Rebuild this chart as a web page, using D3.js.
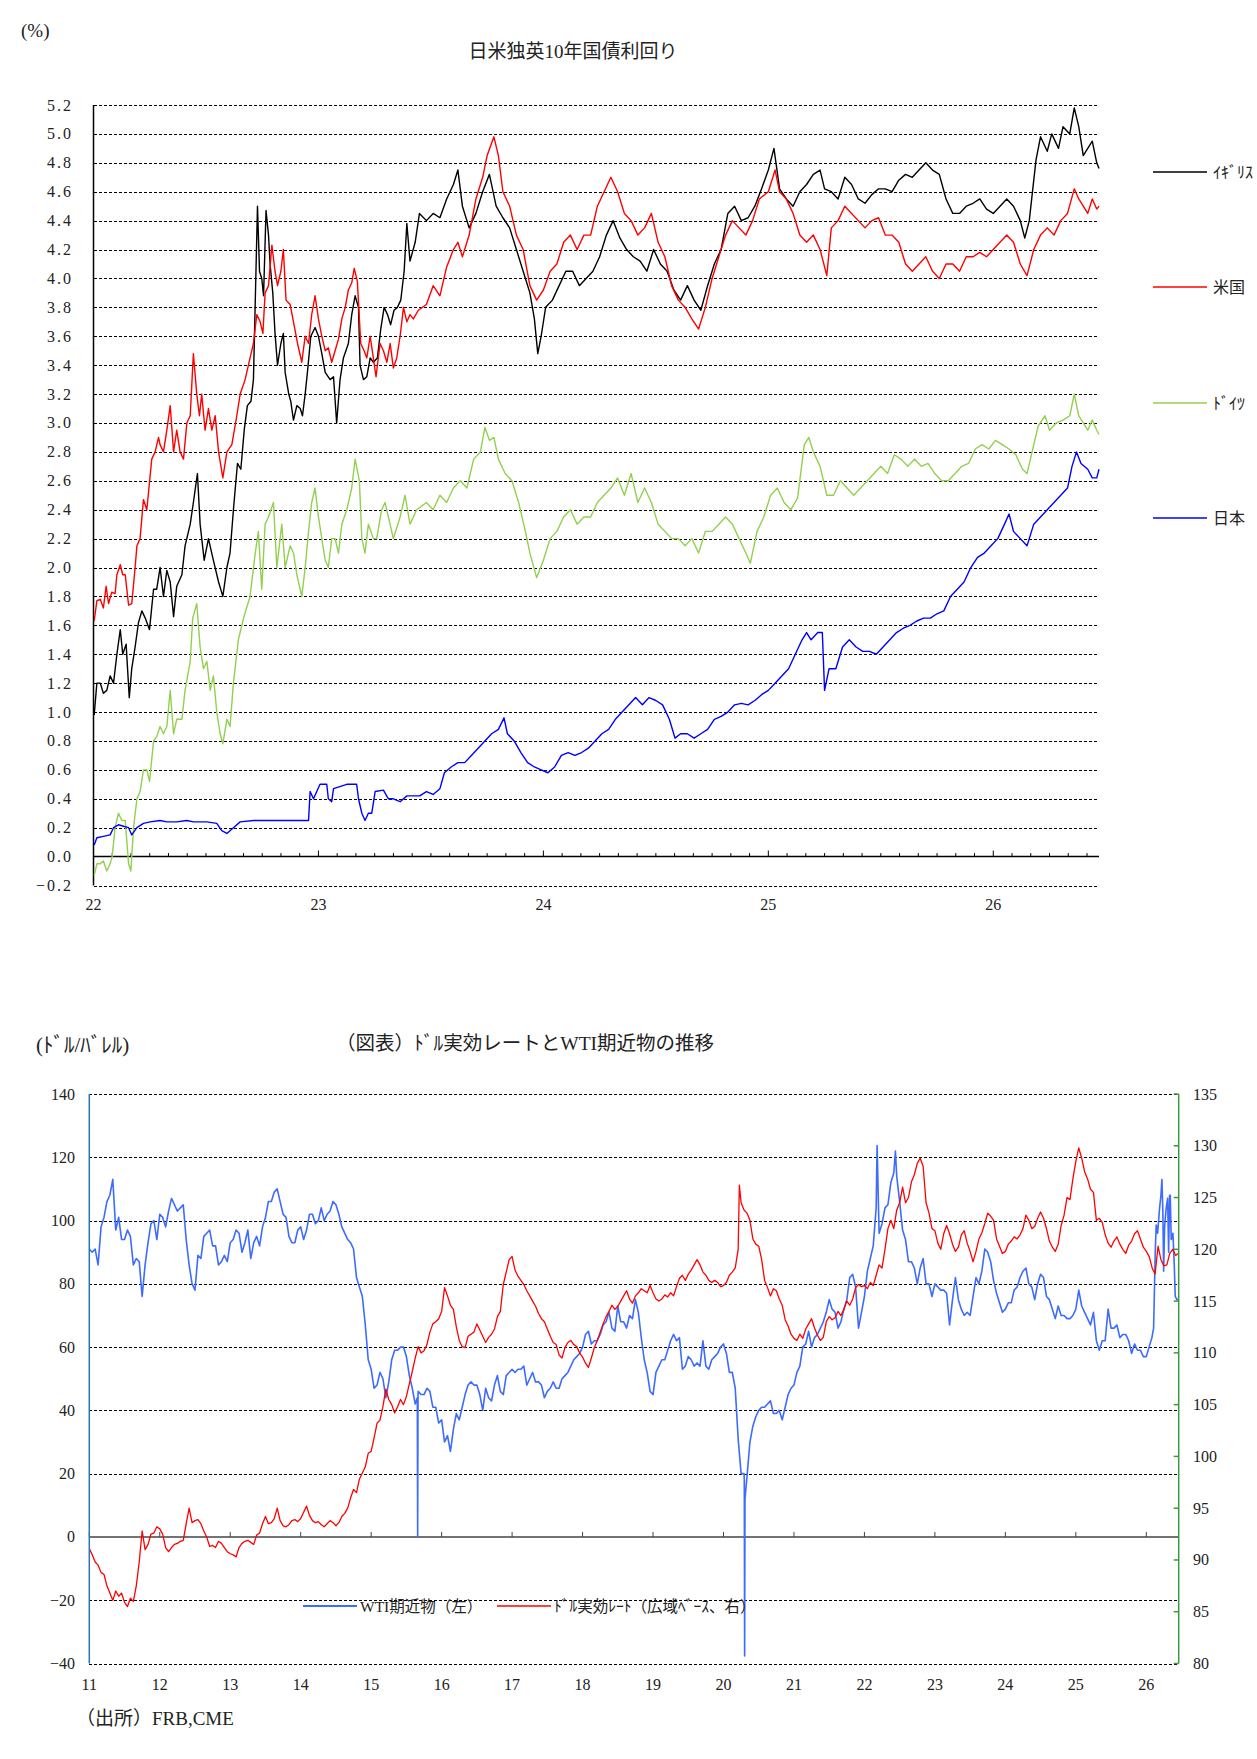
<!DOCTYPE html>
<html>
<head>
<meta charset="utf-8">
<script src="https://cdn.jsdelivr.net/npm/d3@7"></script>
<style>
  body { margin: 0; background: #fff; }
  text { font-family: "Liberation Serif", "Noto Sans CJK JP", serif; fill: #222; }
</style>
</head>
<body>
<div id="chart"></div>
<script>
// ---- top chart: 10y government bond yields, [year (2-digit, decimal), %] ----
var ukYield = [[22.003,0.98],[22.015,1.2],[22.03,1.2],[22.044,1.13],[22.059,1.15],[22.074,1.25],[22.089,1.2],[22.104,1.4],[22.119,1.57],[22.13,1.4],[22.145,1.47],[22.159,1.1],[22.17,1.3],[22.185,1.45],[22.2,1.62],[22.215,1.7],[22.23,1.65],[22.249,1.57],[22.267,1.85],[22.281,1.85],[22.296,2.0],[22.311,1.8],[22.326,1.98],[22.341,1.9],[22.356,1.66],[22.37,1.87],[22.393,1.95],[22.407,2.15],[22.43,2.3],[22.444,2.45],[22.462,2.65],[22.474,2.3],[22.492,2.05],[22.511,2.2],[22.533,2.05],[22.556,1.9],[22.575,1.8],[22.593,2.0],[22.607,2.1],[22.622,2.4],[22.64,2.72],[22.655,2.68],[22.67,2.95],[22.684,3.12],[22.7,3.15],[22.711,3.3],[22.72,3.9],[22.729,4.5],[22.738,4.05],[22.748,4.0],[22.756,3.88],[22.767,4.47],[22.778,4.3],[22.785,4.1],[22.797,3.9],[22.807,3.62],[22.818,3.4],[22.833,3.55],[22.844,3.62],[22.852,3.35],[22.868,3.2],[22.877,3.15],[22.889,3.02],[22.904,3.12],[22.919,3.1],[22.929,3.05],[22.941,3.2],[22.951,3.35],[22.966,3.6],[22.985,3.66],[23.0,3.6],[23.015,3.48],[23.03,3.35],[23.052,3.3],[23.067,3.32],[23.081,3.0],[23.096,3.3],[23.111,3.45],[23.133,3.55],[23.148,3.75],[23.163,3.88],[23.178,3.8],[23.185,3.4],[23.2,3.3],[23.215,3.32],[23.23,3.45],[23.244,3.42],[23.262,3.45],[23.277,3.65],[23.292,3.8],[23.307,3.75],[23.321,3.68],[23.336,3.78],[23.351,3.8],[23.366,3.85],[23.381,4.05],[23.393,4.38],[23.407,4.12],[23.43,4.25],[23.449,4.45],
  [23.48,4.4],[23.51,4.45],[23.54,4.42],[23.57,4.55],[23.6,4.65],[23.62,4.75],[23.64,4.5],[23.67,4.35],[23.7,4.45],[23.73,4.6],[23.76,4.72],[23.79,4.5],[23.82,4.42],[23.85,4.35],[23.88,4.2],[23.91,4.05],[23.94,3.9],[23.96,3.72],[23.975,3.48],[23.99,3.6],[24.01,3.8],[24.04,3.85],[24.07,3.95],[24.1,4.05],[24.13,4.05],[24.16,3.95],[24.19,4.0],[24.22,4.05],[24.25,4.15],[24.28,4.3],[24.31,4.4],[24.34,4.28],[24.37,4.2],[24.4,4.15],[24.43,4.12],[24.46,4.05],[24.49,4.2],[24.52,4.1],[24.55,4.05],[24.58,3.92],[24.61,3.85],[24.64,3.95],[24.67,3.85],[24.7,3.78],[24.73,3.95],[24.76,4.1],[24.79,4.2],[24.82,4.45],[24.85,4.5],[24.88,4.4],[24.91,4.42],[24.94,4.5],[24.97,4.62],[25.0,4.75],[25.025,4.9],[25.05,4.62],[25.08,4.55],[25.11,4.5],[25.14,4.6],[25.17,4.65],[25.2,4.72],[25.23,4.75],[25.25,4.62],[25.28,4.6],[25.31,4.55],[25.34,4.7],[25.37,4.65],[25.4,4.55],[25.43,4.52],[25.46,4.58],[25.49,4.62],[25.52,4.62],[25.55,4.6],[25.58,4.68],[25.61,4.72],[25.64,4.7],[25.67,4.75],[25.7,4.8],[25.73,4.75],[25.76,4.72],[25.79,4.55],[25.82,4.45],[25.85,4.45],[25.88,4.5],[25.91,4.52],[25.94,4.55],[25.97,4.48],[26.0,4.45],[26.03,4.5],[26.06,4.55],[26.09,4.5],[26.12,4.4],[26.14,4.28],[26.16,4.4],[26.19,4.82],[26.21,4.98],[26.24,4.88],[26.26,5.0],[26.29,4.9],[26.31,5.05],[26.34,5.0],[26.36,5.18],[26.38,5.05],[26.4,4.85],[26.42,4.9],[26.44,4.95],[26.46,4.8],[26.47,4.76]];

var usYield = [[22.003,1.63],[22.015,1.77],[22.03,1.78],[22.044,1.72],[22.056,1.87],[22.067,1.75],[22.081,1.83],[22.096,1.82],[22.104,1.95],[22.119,2.02],[22.13,1.95],[22.141,1.95],[22.156,1.74],[22.17,1.75],[22.185,2.0],[22.193,2.15],[22.207,2.2],[22.222,2.47],[22.237,2.4],[22.259,2.75],[22.274,2.8],[22.289,2.9],[22.296,2.85],[22.311,2.8],[22.326,2.95],[22.341,3.12],[22.356,2.8],[22.37,2.95],[22.385,2.8],[22.4,2.75],[22.415,3.0],[22.43,3.05],[22.444,3.48],[22.459,3.2],[22.471,3.05],[22.481,3.2],[22.496,2.95],[22.511,3.1],[22.526,2.95],[22.541,3.05],[22.556,2.8],[22.575,2.62],[22.593,2.8],[22.615,2.85],[22.637,3.05],[22.652,3.2],[22.674,3.3],[22.696,3.45],[22.711,3.55],[22.726,3.75],[22.741,3.7],[22.753,3.62],[22.763,3.9],[22.778,3.95],[22.793,4.23],[22.807,4.05],[22.818,3.95],[22.833,4.05],[22.844,4.2],[22.856,3.85],[22.874,3.82],[22.889,3.7],[22.907,3.55],[22.926,3.42],[22.941,3.6],[22.956,3.55],[22.97,3.75],[22.985,3.88],[23.0,3.72],[23.015,3.6],[23.03,3.5],[23.044,3.52],[23.059,3.42],[23.074,3.5],[23.089,3.58],[23.104,3.72],[23.119,3.8],[23.133,3.92],[23.148,3.97],[23.159,4.07],[23.173,3.98],[23.188,3.55],[23.203,3.5],[23.215,3.45],[23.23,3.6],[23.244,3.45],[23.256,3.32],[23.274,3.55],[23.289,3.5],[23.304,3.42],[23.319,3.55],[23.333,3.38],[23.348,3.45],[23.363,3.6],[23.378,3.8],[23.393,3.7],[23.407,3.75],[23.422,3.72],[23.444,3.78],
  [23.48,3.82],[23.51,3.95],[23.54,3.88],[23.57,4.08],[23.6,4.2],[23.62,4.25],[23.64,4.15],[23.67,4.3],[23.7,4.55],[23.73,4.7],[23.75,4.85],[23.78,4.98],[23.8,4.85],[23.82,4.6],[23.85,4.5],[23.88,4.3],[23.91,4.2],[23.94,3.95],[23.97,3.85],[24.0,3.92],[24.03,4.05],[24.06,4.1],[24.09,4.25],[24.12,4.3],[24.15,4.2],[24.18,4.3],[24.21,4.3],[24.24,4.5],[24.27,4.6],[24.3,4.7],[24.33,4.6],[24.36,4.45],[24.39,4.4],[24.42,4.3],[24.45,4.35],[24.48,4.45],[24.51,4.25],[24.54,4.15],[24.57,3.95],[24.6,3.85],[24.63,3.8],[24.66,3.72],[24.69,3.65],[24.72,3.8],[24.75,4.0],[24.78,4.15],[24.81,4.3],[24.84,4.4],[24.87,4.35],[24.9,4.3],[24.93,4.4],[24.96,4.55],[25.0,4.6],[25.03,4.75],[25.05,4.6],[25.08,4.55],[25.11,4.45],[25.14,4.3],[25.17,4.25],[25.2,4.3],[25.23,4.2],[25.26,4.02],[25.28,4.35],[25.31,4.4],[25.34,4.5],[25.37,4.45],[25.4,4.4],[25.43,4.35],[25.46,4.4],[25.49,4.42],[25.52,4.3],[25.55,4.3],[25.58,4.25],[25.61,4.1],[25.64,4.05],[25.67,4.1],[25.7,4.15],[25.73,4.05],[25.76,4.0],[25.79,4.1],[25.82,4.1],[25.85,4.05],[25.88,4.15],[25.91,4.15],[25.94,4.18],[25.97,4.15],[26.0,4.2],[26.03,4.25],[26.06,4.3],[26.09,4.25],[26.12,4.1],[26.15,4.02],[26.18,4.2],[26.21,4.3],[26.24,4.35],[26.27,4.3],[26.3,4.4],[26.33,4.45],[26.36,4.62],[26.38,4.55],[26.4,4.5],[26.42,4.45],[26.44,4.55],[26.46,4.48],[26.47,4.5]];

var deYield = [[22.003,-0.13],[22.015,-0.05],[22.03,-0.05],[22.044,-0.03],[22.059,-0.1],[22.074,-0.05],[22.083,0.0],[22.096,0.2],[22.111,0.3],[22.126,0.25],[22.141,0.25],[22.156,-0.05],[22.166,-0.1],[22.178,0.2],[22.193,0.4],[22.207,0.45],[22.222,0.6],[22.237,0.6],[22.249,0.52],[22.267,0.8],[22.281,0.83],[22.296,0.9],[22.311,0.85],[22.326,0.9],[22.341,1.15],[22.356,0.85],[22.37,0.95],[22.393,0.95],[22.407,1.15],[22.43,1.35],[22.441,1.65],[22.459,1.75],[22.474,1.45],[22.489,1.3],[22.504,1.35],[22.519,1.15],[22.533,1.25],[22.548,1.0],[22.563,0.85],[22.575,0.78],[22.593,0.95],[22.607,0.9],[22.622,1.2],[22.644,1.5],[22.667,1.65],[22.696,1.8],[22.719,2.1],[22.733,2.25],[22.748,1.85],[22.763,2.3],[22.778,2.35],[22.8,2.45],[22.815,2.0],[22.837,2.3],[22.852,2.0],[22.874,2.15],[22.889,2.1],[22.904,1.95],[22.926,1.8],[22.941,2.0],[22.956,2.25],[22.97,2.45],[22.985,2.55],[23.0,2.35],[23.015,2.2],[23.03,2.05],[23.044,2.0],[23.059,2.2],[23.074,2.2],[23.089,2.1],[23.104,2.3],[23.126,2.4],[23.148,2.55],[23.163,2.75],[23.182,2.6],[23.193,2.2],[23.207,2.1],[23.222,2.3],[23.244,2.2],[23.259,2.2],[23.281,2.4],[23.296,2.45],[23.311,2.35],[23.333,2.2],[23.363,2.35],[23.385,2.5],[23.407,2.3],[23.437,2.4],
  [23.48,2.45],[23.51,2.4],[23.54,2.5],[23.57,2.45],[23.6,2.55],[23.63,2.6],[23.66,2.55],[23.69,2.75],[23.72,2.8],[23.74,2.97],[23.76,2.88],[23.78,2.9],[23.8,2.75],[23.83,2.65],[23.86,2.6],[23.89,2.45],[23.92,2.25],[23.94,2.1],[23.97,1.93],[24.0,2.05],[24.03,2.2],[24.06,2.25],[24.09,2.35],[24.12,2.4],[24.15,2.3],[24.18,2.35],[24.21,2.35],[24.24,2.45],[24.27,2.5],[24.3,2.55],[24.33,2.62],[24.36,2.5],[24.39,2.65],[24.42,2.45],[24.45,2.55],[24.48,2.45],[24.51,2.3],[24.54,2.25],[24.57,2.2],[24.6,2.2],[24.63,2.15],[24.66,2.2],[24.69,2.1],[24.72,2.25],[24.75,2.25],[24.78,2.3],[24.81,2.35],[24.84,2.3],[24.87,2.2],[24.9,2.1],[24.92,2.03],[24.95,2.25],[24.98,2.35],[25.01,2.5],[25.04,2.55],[25.07,2.45],[25.1,2.4],[25.13,2.48],[25.16,2.85],[25.18,2.9],[25.2,2.8],[25.23,2.7],[25.26,2.5],[25.29,2.5],[25.32,2.6],[25.35,2.55],[25.38,2.5],[25.41,2.55],[25.44,2.6],[25.47,2.65],[25.5,2.7],[25.53,2.65],[25.56,2.78],[25.59,2.75],[25.62,2.7],[25.65,2.75],[25.68,2.7],[25.71,2.72],[25.74,2.65],[25.77,2.6],[25.8,2.6],[25.83,2.65],[25.86,2.7],[25.89,2.72],[25.92,2.82],[25.95,2.85],[25.98,2.82],[26.01,2.88],[26.04,2.85],[26.07,2.82],[26.1,2.78],[26.13,2.68],[26.15,2.65],[26.18,2.85],[26.2,2.98],[26.23,3.05],[26.25,2.95],[26.28,3.0],[26.31,3.02],[26.34,3.05],[26.36,3.2],[26.38,3.05],[26.4,3.0],[26.42,2.95],[26.44,3.02],[26.46,2.95],[26.47,2.92]];

var jpYield = [[22.003,0.08],[22.015,0.13],[22.044,0.14],[22.074,0.15],[22.089,0.2],[22.111,0.22],[22.133,0.21],[22.156,0.2],[22.17,0.15],[22.193,0.2],[22.222,0.23],[22.252,0.24],[22.296,0.25],[22.326,0.24],[22.37,0.24],[22.415,0.25],[22.444,0.24],[22.504,0.24],[22.548,0.23],[22.57,0.18],[22.593,0.16],[22.622,0.2],[22.652,0.24],[22.711,0.25],[22.77,0.25],[22.83,0.25],[22.889,0.25],[22.956,0.25],[22.963,0.45],[22.978,0.4],[23.007,0.5],[23.037,0.5],[23.044,0.4],[23.059,0.38],[23.067,0.47],[23.126,0.5],[23.17,0.5],[23.178,0.4],[23.193,0.3],[23.207,0.25],[23.222,0.3],[23.237,0.3],[23.252,0.45],[23.289,0.46],[23.311,0.4],[23.333,0.4],[23.363,0.38],[23.393,0.42],[23.422,0.42],
  [23.45,0.42],[23.48,0.45],[23.51,0.43],[23.54,0.47],[23.56,0.58],[23.59,0.62],[23.62,0.65],[23.65,0.65],[23.68,0.7],[23.71,0.75],[23.74,0.8],[23.77,0.85],[23.8,0.88],[23.825,0.96],[23.84,0.85],[23.87,0.8],[23.9,0.72],[23.93,0.65],[23.96,0.62],[23.99,0.6],[24.02,0.58],[24.05,0.62],[24.08,0.7],[24.11,0.72],[24.14,0.7],[24.17,0.72],[24.2,0.75],[24.23,0.8],[24.26,0.85],[24.29,0.88],[24.32,0.95],[24.35,1.0],[24.38,1.05],[24.41,1.1],[24.44,1.05],[24.47,1.1],[24.5,1.08],[24.53,1.05],[24.56,0.95],[24.585,0.82],[24.61,0.85],[24.64,0.85],[24.67,0.82],[24.7,0.85],[24.73,0.88],[24.76,0.95],[24.79,0.97],[24.82,1.0],[24.85,1.05],[24.88,1.06],[24.91,1.05],[24.94,1.08],[24.97,1.12],[25.0,1.15],[25.03,1.2],[25.06,1.25],[25.09,1.3],[25.12,1.4],[25.15,1.5],[25.17,1.55],[25.19,1.5],[25.22,1.55],[25.24,1.55],[25.25,1.15],[25.27,1.3],[25.3,1.3],[25.33,1.45],[25.36,1.5],[25.39,1.45],[25.42,1.42],[25.45,1.42],[25.48,1.4],[25.51,1.45],[25.54,1.5],[25.57,1.55],[25.6,1.58],[25.63,1.6],[25.66,1.63],[25.69,1.65],[25.72,1.65],[25.75,1.68],[25.78,1.7],[25.81,1.8],[25.84,1.85],[25.87,1.9],[25.9,2.0],[25.93,2.07],[25.96,2.1],[25.99,2.15],[26.02,2.2],[26.05,2.3],[26.07,2.37],[26.09,2.25],[26.12,2.2],[26.15,2.15],[26.18,2.3],[26.21,2.35],[26.24,2.4],[26.27,2.45],[26.3,2.5],[26.33,2.55],[26.35,2.7],[26.37,2.8],[26.39,2.72],[26.42,2.68],[26.44,2.62],[26.46,2.62],[26.47,2.68]];

var rateTicks = [-0.2,0,0.2,0.4,0.6,0.8,1.0,1.2,1.4,1.6,1.8,2.0,2.2,2.4,2.6,2.8,3.0,3.2,3.4,3.6,3.8,4.0,4.2,4.4,4.6,4.8,5.0,5.2];
var topYears = [22,23,24,25,26];
var topNames = ["ｲｷﾞﾘｽ","米国","ﾄﾞｲﾂ","日本"];

// ---- bottom chart: WTI (left, $/bbl) and broad dollar index (right) ----
// rows = one year each, values on the 1st and 16th of every month, from 2011
var wtiRows = [
  [91,90,91,86,98,101,106,108,113,97,101,94,94,97,95,86,88,87,76,86,93,99,100,94],
  [102,101,98,103,107,105,103,104,105,94,86,80,78,89,88,95,96,97,92,92,86,87,89,87],
  [93,94,97,96,90,93,97,88,93,95,92,98,101,106,106,109,110,106,102,101,95,93,93,97],
  [98,94,97,102,102,99,100,104,100,102,103,106,105,102,98,96,94,93,91,82,79,76,67,56],
  [53,47,48,52,50,44,49,56,59,59,60,60,57,51,47,42,46,45,45,47,46,41,41,36],
  [37,30,32,27,34,39,37,41,45,48,49,48,48,45,40,47,44,43,48,51,46,45,51,52],
  [53,52,53,53,54,48,50,52,49,49,48,44,46,47,49,47,47,50,51,52,54,56,57,58],
  [60,64,65,61,62,62,64,67,68,71,66,65,73,68,68,66,70,69,75,71,63,56,52,46],
  [45,52,54,56,56,59,62,64,62,63,53,54,57,56,54,55,54,62,54,53,56,57,58,60],
  [61,58,52,52,47,31,20,20,19,30,35,38,40,41,41,42,43,39,39,40,37,41,45,47],
  [48,52,54,60,61,65,60,63,64,66,68,71,75,72,71,66,68,72,75,82,83,79,66,71],
  [76,84,88,92,104,96,99,104,105,112,115,114,106,97,94,87,87,85,80,85,88,80,80,76],
  [80,79,78,78,77,67,75,82,75,72,70,71,70,76,82,80,84,91,90,87,81,77,74,71],
  [72,74,74,78,79,82,84,85,80,79,75,80,83,82,76,75,72,69,73,70,70,69,69,70],
  [72,78,73,71,69,67,71,62,59,62,62,72,66,66,67,63,64,64,62,58,61,59,59,57]
];
var wti2026 = [[26.0,57],[26.04,60],[26.08,63],[26.104,66],[26.127,90],[26.141,98.6],[26.161,96],[26.189,104],[26.208,108],[26.222,113],[26.236,102],[26.246,84],[26.26,98],[26.283,104],[26.303,107],[26.317,90],[26.331,108],[26.34,108],[26.354,94],[26.378,96],[26.397,86],[26.411,76],[26.435,75],[26.45,75]];
var wtiSpikes = [[15.655,44],[15.66,0],[15.665,45],[20.295,18],[20.3,-37.6],[20.305,12],[22.18,123.7],[22.44,122]];

var dollarRows = [
  [91.1,90.5,89.8,89.5,88.8,88.6,87.5,86.8,86.1,87.0,86.5,86.8,85.9,85.5,86.3,86.0,87.5,89.8,92.8,91.0,91.5,92.5,92.6,93.2],
  [93.0,92.5,91.2,90.8,91.2,91.5,91.6,91.8,91.9,93.5,95.0,93.6,93.8,93.9,93.5,92.8,92.2,91.3,91.4,91.2,91.8,91.6,91.2,90.8],
  [90.6,90.5,90.3,91.2,91.6,91.8,91.9,91.7,91.5,92.4,92.6,93.5,94.2,93.5,93.6,94.0,95.0,93.8,93.3,93.2,93.4,93.8,93.9,93.7],
  [94.0,94.6,95.2,94.3,93.8,93.6,93.7,93.4,93.2,93.5,93.8,93.6,93.3,93.6,94.2,94.5,95.0,96.0,96.8,96.5,97.8,98.4,99.0,100.3],
  [100.5,101.8,103.2,103.5,104.8,106.5,105.5,105.0,104.2,104.8,105.5,105.0,105.8,107.0,108.2,109.5,110.6,110.0,110.2,110.8,112.0,112.8,113.0,113.3],
  [114.0,116.3,115.5,114.6,114.2,112.5,111.2,110.6,110.5,111.6,111.8,112.0,112.8,112.2,111.6,111.0,111.5,111.8,112.3,113.5,114.0,116.6,117.8,119.0],
  [119.3,118.0,117.4,117.0,116.6,116.0,115.5,115.0,114.5,113.8,113.3,113.0,112.3,111.6,111.0,110.8,109.8,109.5,110.5,111.0,111.2,110.8,110.6,110.0],
  [109.6,109.0,108.6,109.5,110.5,111.2,112.0,112.8,113.5,114.0,114.6,114.2,114.5,115.0,115.5,116.0,115.2,114.8,115.5,115.8,116.2,116.0,115.8,116.5],
  [115.8,115.2,115.0,115.2,115.6,115.4,115.8,115.5,116.4,117.2,117.5,117.0,117.6,118.0,118.5,119.0,118.5,117.8,117.5,117.0,116.8,117.0,116.8,116.4],
  [116.5,116.8,117.5,117.8,118.2,120.0,124.5,123.8,123.5,122.8,121.0,120.5,120.3,119.0,117.0,116.3,115.5,116.2,116.0,115.2,114.6,113.2,112.6,111.8],
  [111.4,111.2,111.8,111.4,112.3,112.8,113.3,112.4,111.7,111.2,111.5,113.0,113.5,113.2,113.4,114.0,113.6,114.2,115.0,114.6,115.2,116.3,116.6,116.4],
  [116.5,116.2,116.8,116.5,117.5,118.5,118.2,120.0,122.0,122.8,122.0,123.8,124.5,126.0,124.5,125.0,126.5,127.2,128.3,128.8,128.0,124.5,123.5,122.0],
  [121.8,120.6,120.0,121.5,122.3,121.5,120.5,119.8,120.2,121.4,121.8,120.6,119.8,118.8,119.8,121.0,121.6,122.5,123.5,123.2,122.8,121.0,120.3,119.6],
  [119.8,120.5,120.8,121.2,121.0,121.4,122.0,123.3,122.8,122.0,122.2,123.0,123.6,123.0,122.0,120.8,120.2,119.8,120.5,122.3,123.3,125.0,124.8,126.8],
  [128.5,129.8,128.8,127.5,126.8,125.8,125.5,122.8,123.0,122.6,121.4,120.6,120.2,120.8,121.2,120.5,120.0,119.6,120.4,120.8,121.5,121.8,121.0,120.2],
  [119.8,119.3,118.2,117.6,120.3,119.0,118.4,118.5,119.6,120.0,119.4]
];
var dollarExtra = [[20.225,126.2],[26.45,119.6]];

var wtiTicks = [-40,-20,0,20,40,60,80,100,120,140];
var dollarTicks = [80,85,90,95,100,105,110,115,120,125,130,135];
var bottomYears = [11,12,13,14,15,16,17,18,19,20,21,22,23,24,25,26];
var bottomNames = ["WTI期近物（左）","ﾄﾞﾙ実効ﾚｰﾄ（広域ﾍﾞｰｽ、右）"];

function halfMonthly(rows, startYear) {
  var out = [];
  rows.forEach(function(r, i) {
    r.forEach(function(v, k) { out.push([startYear + i + k / 24, v]); });
  });
  return out;
}
var byT = function(a, b) { return a[0] - b[0]; };
var wtiSeries = halfMonthly(wtiRows, 11).concat(wti2026, wtiSpikes).sort(byT);
var dollarSeries = halfMonthly(dollarRows, 11).concat(dollarExtra).sort(byT);

var svg = d3.select("#chart").append("svg")
    .attr("width", 1257)
    .attr("height", 1759);

function dashed(g, x1, x2, y) {
  g.append("line")
    .attr("x1", x1).attr("x2", x2).attr("y1", y).attr("y2", y)
    .attr("stroke", "#000").attr("stroke-width", 1)
    .attr("stroke-dasharray", "3,2")
    .attr("shape-rendering", "crispEdges");
}

// ================= top chart =================
var gTop = svg.append("g");
var xT = d3.scaleLinear().domain([22, 26.47]).range([93.5, 1099]);
var yT = d3.scaleLinear().domain([-0.2, 5.2]).range([885.5, 105]);

gTop.append("text").attr("x", 21).attr("y", 37).style("font-size", "19px").text("(%)");
gTop.append("text").attr("x", 573).attr("y", 58).attr("text-anchor", "middle")
  .style("font-size", "19px").text("日米独英10年国債利回り");

rateTicks.forEach(function(v) {
  if (v !== 0) dashed(gTop, xT.range()[0], xT.range()[1], Math.round(yT(v)) + 0.5);
  gTop.append("text")
    .attr("x", 73).attr("y", yT(v))
    .attr("text-anchor", "end").attr("dominant-baseline", "central")
    .style("font-size", "16px").style("letter-spacing", "2px")
    .text(d3.format(".1f")(v).replace("-", "\u2212"));
});

// axes
gTop.append("line").attr("x1", 93.5).attr("x2", 93.5).attr("y1", 105).attr("y2", 885.5)
  .attr("stroke", "#000").attr("stroke-width", 1.5);
gTop.append("line").attr("x1", 93.5).attr("x2", 1099).attr("y1", yT(0)).attr("y2", yT(0))
  .attr("stroke", "#000").attr("stroke-width", 1.5);
d3.range(1, 54).forEach(function(m) {
  var t = 22 + m / 12;
  if (t > 26.47) return;
  var len = m % 12 === 0 ? 6 : 3.5;
  gTop.append("line").attr("x1", xT(t)).attr("x2", xT(t))
    .attr("y1", yT(0)).attr("y2", yT(0) - len)
    .attr("stroke", "#000").attr("stroke-width", 1);
});
topYears.forEach(function(y) {
  gTop.append("text").attr("x", xT(y)).attr("y", 904)
    .attr("text-anchor", "middle").attr("dominant-baseline", "central")
    .style("font-size", "16px").text(y);
});

var lineT = d3.line().x(function(d) { return xT(d[0]); }).y(function(d) { return yT(d[1]); });
var topSeries = [ukYield, usYield, deYield, jpYield];
var topColors = ["#000000", "#ff0000", "#92d050", "#0000ff"];
topSeries.forEach(function(s, i) {
  gTop.append("path").datum(s)
    .attr("fill", "none").attr("stroke", topColors[i])
    .attr("stroke-width", 1.4).attr("stroke-linejoin", "round")
    .attr("d", lineT);
});

// legend
var legY = [172, 287, 403, 518];
topNames.forEach(function(n, i) {
  gTop.append("line").attr("x1", 1153).attr("x2", 1207).attr("y1", legY[i]).attr("y2", legY[i])
    .attr("stroke", topColors[i]).attr("stroke-width", 1.5);
  gTop.append("text").attr("x", 1213).attr("y", legY[i])
    .attr("dominant-baseline", "central").style("font-size", "16px").text(n);
});

// ================= bottom chart =================
var gBot = svg.append("g");
var xB = d3.scaleLinear().domain([11, 26.46]).range([89.3, 1178.7]);
var yL = d3.scaleLinear().domain([-40, 140]).range([1663.5, 1094]);
var yR = d3.scaleLinear().domain([80, 135]).range([1663.5, 1094]);

gBot.append("text").attr("x", 36).attr("y", 1052).style("font-size", "21px").text("(ﾄﾞﾙ/ﾊﾞﾚﾙ)");
gBot.append("text").attr("x", 336).attr("y", 1050).style("font-size", "19.5px")
  .text("（図表）ﾄﾞﾙ実効レートとWTI期近物の推移");

wtiTicks.forEach(function(v) {
  if (v !== 0) dashed(gBot, xB.range()[0], xB.range()[1], Math.round(yL(v)) + 0.5);
  gBot.append("text").attr("x", 75).attr("y", yL(v))
    .attr("text-anchor", "end").attr("dominant-baseline", "central")
    .style("font-size", "16px").text(d3.format("d")(v).replace("-", "\u2212"));
});
dollarTicks.forEach(function(v) {
  gBot.append("line").attr("x1", 1173.7).attr("x2", 1178.7).attr("y1", yR(v)).attr("y2", yR(v))
    .attr("stroke", "#3c9a3c").attr("stroke-width", 1.5);
  gBot.append("text").attr("x", 1193).attr("y", yR(v))
    .attr("dominant-baseline", "central")
    .style("font-size", "16px").text(v);
});

// x axis at zero
gBot.append("line").attr("x1", 89.3).attr("x2", 1178.7).attr("y1", yL(0)).attr("y2", yL(0))
  .attr("stroke", "#444").attr("stroke-width", 1.5);
bottomYears.forEach(function(y) {
  gBot.append("line").attr("x1", xB(y)).attr("x2", xB(y)).attr("y1", yL(0)).attr("y2", yL(0) - 5)
    .attr("stroke", "#444").attr("stroke-width", 1);
  gBot.append("text").attr("x", xB(y)).attr("y", 1684)
    .attr("text-anchor", "middle").attr("dominant-baseline", "central")
    .style("font-size", "16px").text(y);
});

var lineW = d3.line().x(function(d) { return xB(d[0]); }).y(function(d) { return yL(d[1]); });
var lineD = d3.line().x(function(d) { return xB(d[0]); }).y(function(d) { return yR(d[1]); });
gBot.append("path").datum(wtiSeries)
  .attr("fill", "none").attr("stroke", "#3d6bff").attr("stroke-width", 1.6)
  .attr("stroke-linejoin", "round").attr("d", lineW);
gBot.append("path").datum(dollarSeries)
  .attr("fill", "none").attr("stroke", "#ff0000").attr("stroke-width", 1.3)
  .attr("stroke-linejoin", "round").attr("d", lineD);

// side axes
gBot.append("line").attr("x1", 89.3).attr("x2", 89.3).attr("y1", 1094).attr("y2", 1663.5)
  .attr("stroke", "#2a74b8").attr("stroke-width", 1.5);
gBot.append("line").attr("x1", 1178.7).attr("x2", 1178.7).attr("y1", 1094).attr("y2", 1663.5)
  .attr("stroke", "#3c9a3c").attr("stroke-width", 1.5);

// legend
var legX = [303, 497];
var legC = ["#3d6bff", "#ff0000"];
bottomNames.forEach(function(n, i) {
  gBot.append("line").attr("x1", legX[i]).attr("x2", legX[i] + 54).attr("y1", 1606).attr("y2", 1606)
    .attr("stroke", legC[i]).attr("stroke-width", i === 0 ? 2 : 1.5);
  gBot.append("text").attr("x", legX[i] + 57).attr("y", 1606)
    .attr("dominant-baseline", "central").style("font-size", "15.5px").text(n);
});

// source
gBot.append("text").attr("x", 76).attr("y", 1725).style("font-size", "19px").text("（出所）FRB,CME");
</script>
</body>
</html>
